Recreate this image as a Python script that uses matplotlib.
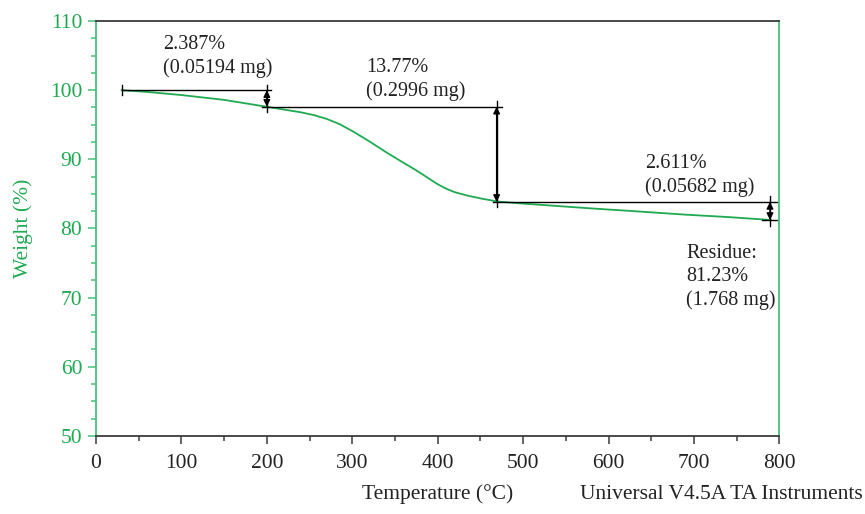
import matplotlib.pyplot as plt
from matplotlib.ticker import MultipleLocator

plt.rcParams['font.family'] = ['Liberation Serif', 'DejaVu Serif']

# TGA curve
temp = [30, 60, 100, 150, 200, 220, 240, 255, 270, 285, 300, 320, 340, 360,
        375, 390, 400, 410, 420, 435, 450, 470, 500, 540, 580, 630, 690, 740, 790]
weight = [100.0, 99.75, 99.3, 98.6, 97.6, 97.2, 96.8, 96.4, 95.85, 95.1,
          94.1, 92.6, 91.0, 89.5, 88.4, 87.2, 86.4, 85.75, 85.25, 84.75,
          84.35, 83.9, 83.6, 83.25, 82.9, 82.5, 82.0, 81.65, 81.23]

# weight loss steps: (temperature of arrow, upper level, lower level)
step_x = [200, 469, 789]
step_hi = [100.0, 97.61, 83.84]
step_lo = [97.61, 83.84, 81.23]
step_labels = ['2.387%\n(0.05194 mg)', '13.77%\n(0.2996 mg)', '2.611%\n(0.05682 mg)']
label_pos = [(78, 108.0), (316, 104.7), (643, 90.8)]
residue_text = 'Residue:\n81.23%\n(1.768 mg)'

green = '#1fa951'
spine_green = '#45c07c'
grey = '#3a3a3a'

fig = plt.figure(figsize=(8.65, 5.14), dpi=100)
ax = fig.add_axes([0.111, 0.152, 0.79, 0.807])

ax.plot(temp, weight, color=green, lw=1.3)

# horizontal reference levels
ax.plot([30, 205], [100.0, 100.0], color='k', lw=1)
ax.plot([30, 30], [99.3, 100.7], color='k', lw=1)
ax.plot([194, 475], [97.61, 97.61], color='k', lw=1)
ax.plot([465, 797], [83.84, 83.84], color='k', lw=1)
ax.plot([780, 797], [81.23, 81.23], color='k', lw=1)

for x, hi, lo in zip(step_x, step_hi, step_lo):
    ax.plot([x, x], [lo - 0.8, hi + 0.8], color='k', lw=1)
    ax.annotate('', xy=(x, hi), xytext=(x, lo),
                arrowprops=dict(arrowstyle='<|-|>', color='k', lw=1,
                                mutation_scale=10, shrinkA=0, shrinkB=0))

for txt, (x, y) in zip(step_labels, label_pos):
    ax.text(x, y, txt, fontsize=14.5, color='#222222', va='top', ha='left',
            linespacing=1.3)
ax.text(691, 77.8, residue_text, fontsize=14.5, color='#222222', va='top',
        ha='left', linespacing=1.3)

ax.set_xlim(0, 800)
ax.set_ylim(50, 110)
ax.xaxis.set_major_locator(MultipleLocator(100))
ax.xaxis.set_minor_locator(MultipleLocator(50))
ax.yaxis.set_major_locator(MultipleLocator(10))
ax.yaxis.set_minor_locator(MultipleLocator(2.5))

ax.spines['left'].set_color(spine_green)
ax.spines['right'].set_color(spine_green)
ax.spines['top'].set_color(grey)
ax.spines['bottom'].set_color(grey)
for s in ax.spines.values():
    s.set_linewidth(1.3)

ax.tick_params(axis='x', which='major', length=6, width=1.1, colors=grey,
               labelcolor='#222222', labelsize=15.5, pad=7)
ax.tick_params(axis='x', which='minor', length=3.5, width=1.1, colors=grey)
ax.tick_params(axis='y', which='major', length=6, width=1.1, colors=spine_green,
               labelcolor=green, labelsize=15.5, pad=4)
ax.tick_params(axis='y', which='minor', length=3.5, width=1.1, colors=spine_green)

ax.set_ylabel('Weight (%)', color=green, fontsize=15.5, labelpad=12)
fig.text(0.506, 0.02, 'Temperature (°C)', fontsize=15.5, color='#222222',
         ha='center', va='bottom')
fig.text(0.997, 0.02, 'Universal V4.5A TA Instruments', fontsize=15.5,
         color='#222222', ha='right', va='bottom')

fig.savefig('out.png', dpi=100)
